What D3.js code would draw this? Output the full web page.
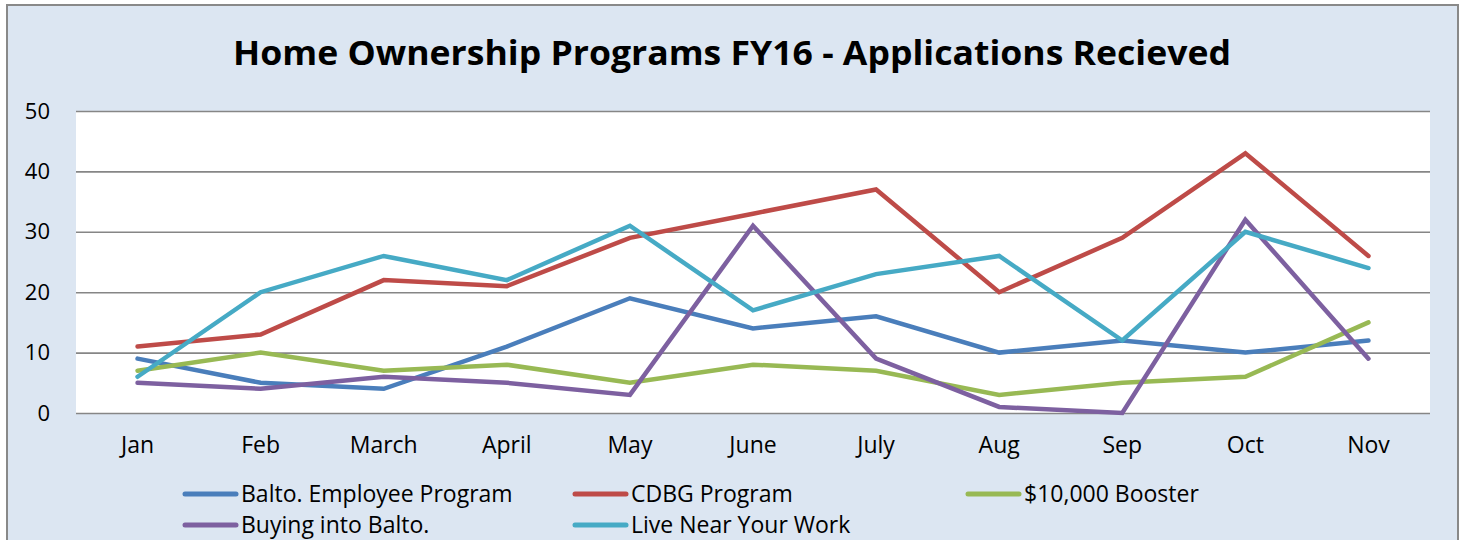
<!DOCTYPE html>
<html><head><meta charset="utf-8">
<script src="https://cdn.jsdelivr.net/npm/d3@7"></script>
<style>body{margin:0;background:#fff}svg{display:block}</style>
</head><body>
<script>
const months = ["Jan","Feb","March","April","May","June","July","Aug","Sep","Oct","Nov"];
const yTicks = [0,10,20,30,40,50];
const seriesNames = ["Balto. Employee Program","CDBG Program","$10,000 Booster","Buying into Balto.","Live Near Your Work"];
const seriesColors = ["#4A7EBB","#BE4B48","#98B954","#7D60A0","#46AAC5"];
const baltoEmployee = [9,5,4,11,19,14,16,10,12,10,12];
const cdbg = [11,13,22,21,29,33,37,20,29,43,26];
const booster = [7,10,7,8,5,8,7,3,5,6,15];
const buyingInto = [5,4,6,5,3,31,9,1,0,32,9];
const liveNear = [6,20,26,22,31,17,23,26,12,30,24];
const seriesValues = [baltoEmployee, cdbg, booster, buyingInto, liveNear];

const W=1466,H=540;
const font="'Open Sans', Lato, sans-serif";
const svg=d3.select("body").append("svg").attr("width",W).attr("height",H);
svg.append("rect").attr("x",7).attr("y",5).attr("width",1451).attr("height",H).attr("fill","#DCE6F2").attr("stroke","#898989").attr("stroke-width",2);

const x=d3.scaleBand().domain(months).range([76,1430]);
const y=d3.scaleLinear().domain([0,50]).range([413,111]);

svg.append("rect").attr("x",76).attr("y",111).attr("width",1354).attr("height",302).attr("fill","#fff");

const title=svg.append("text").attr("x",732).attr("y",65).attr("text-anchor","middle")
 .attr("font-family",font).attr("font-weight","bold").attr("font-size",34).attr("fill","#000")
 .text("Home Ownership Programs FY16 - Applications Recieved");
title.attr("textLength",998).attr("lengthAdjust","spacingAndGlyphs");

const ya=d3.axisLeft(y).tickValues(yTicks).tickSize(-1354).tickPadding(26);
const gy=svg.append("g").attr("transform","translate(76,0)").call(ya);
gy.select(".domain").remove();
gy.selectAll(".tick line").attr("stroke","#868686").attr("stroke-width",1.6);
gy.selectAll(".tick text").attr("font-family",font).attr("font-size",22).attr("fill","#000");

const xa=d3.axisBottom(x).tickSize(0).tickPadding(24);
const gx=svg.append("g").attr("transform","translate(0,413)").call(xa);
gx.select(".domain").remove();
gx.selectAll(".tick text").attr("font-family",font).attr("font-size",23).attr("fill","#000");

const line=d3.line().x((d,i)=>x(months[i])+x.bandwidth()/2).y(d=>y(d));
seriesValues.forEach((vals,k)=>{
  svg.append("path").datum(vals).attr("d",line).attr("fill","none")
   .attr("stroke",seriesColors[k]).attr("stroke-width",4.5).attr("stroke-linejoin","miter").attr("stroke-linecap","round");
});

const legPos=[[183,494],[573,494],[966,494],[183,525],[573,525]];
seriesNames.forEach((n,k)=>{
  const [lx,ly]=legPos[k];
  const g=svg.append("g");
  g.append("line").attr("x1",lx+2).attr("x2",lx+53).attr("y1",ly).attr("y2",ly)
   .attr("stroke",seriesColors[k]).attr("stroke-width",5).attr("stroke-linecap","round");
  g.append("text").attr("x",lx+58).attr("y",ly+8).attr("font-family",font).attr("font-size",23).attr("fill","#000").text(n);
});
</script>
</body></html>
